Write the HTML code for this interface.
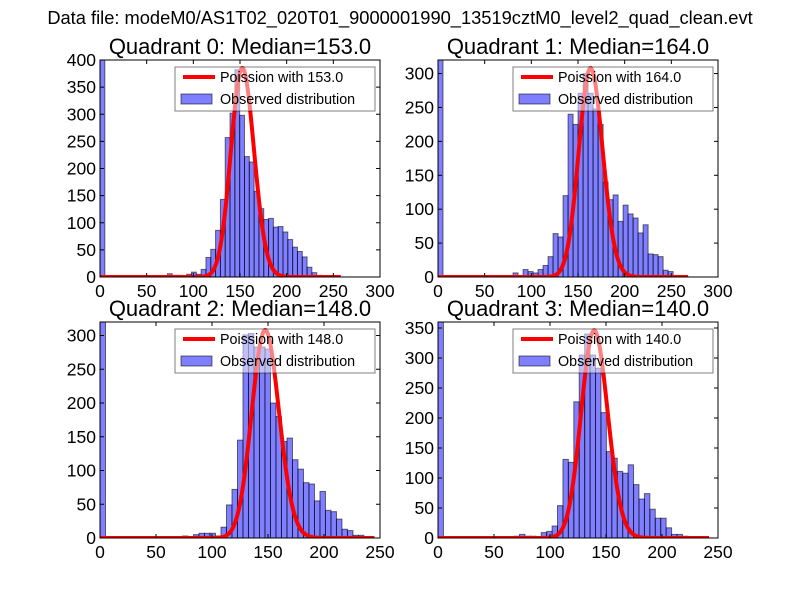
<!DOCTYPE html>
<html><head><meta charset="utf-8"><style>
body{margin:0;background:#fff;}
svg{display:block;font-family:"Liberation Sans","DejaVu Sans",sans-serif;}
</style></head><body>
<svg id="fig" width="800" height="600" viewBox="0 0 800 600">
<rect width="800" height="600" fill="#fff"/>
<text x="400" y="24" text-anchor="middle" font-size="18.3">Data file: modeM0/AS1T02_020T01_9000001990_13519cztM0_level2_quad_clean.evt</text>
</svg>
<script>
// ---- data ----
const quadrantNames = ["Quadrant 0","Quadrant 1","Quadrant 2","Quadrant 3"];
const medians = [153.0, 164.0, 148.0, 140.0];
const binWidths = [5.16, 5.36, 4.91, 4.85];
const poissonPeaks = [385, 308, 308, 346];
const xMaxes = [300, 300, 250, 250];
const yMaxes = [400, 320, 320, 360];
const xTicks01 = [0,50,100,150,200,250,300];
const xTicks23 = [0,50,100,150,200,250];
const yTicks0 = [0,50,100,150,200,250,300,350,400];
const yTicks1 = [0,50,100,150,200,250,300];
const yTicks2 = [0,50,100,150,200,250,300];
const yTicks3 = [0,50,100,150,200,250,300,350];
const counts0 = [430,0,0,0,0,0,0,0,0,0,0,0,0,0,6,3,3,0,5,9,5,14,36,51,86,143,257,302,382,298,222,212,158,126,106,108,92,93,83,69,55,47,37,18,8,3,0,0,0,0];
const counts1 = [330,0,0,0,0,0,0,0,0,0,0,0,0,0,0,6,0,11,8,6,11,17,30,64,59,120,240,225,271,300,271,248,225,140,114,121,82,106,93,87,65,77,34,33,30,10,8,2,0,0];
const counts2 = [330,0,0,0,0,0,0,0,0,0,0,0,0,0,0,3,0,5,7,7,7,3,16,49,72,145,301,303,283,283,280,200,180,143,148,116,102,82,80,55,69,41,39,28,13,11,4,4,0,0];
const counts3 = [370,0,0,0,0,0,0,0,0,0,0,0,0,0,3,6,3,3,0,9,11,20,54,131,126,227,305,340,305,283,209,144,133,111,108,122,89,65,74,48,33,33,17,6,6,3,0,0,0,0];

const allCounts = [counts0,counts1,counts2,counts3];
const allXTicks = [xTicks01,xTicks01,xTicks23,xTicks23];
const allYTicks = [yTicks0,yTicks1,yTicks2,yTicks3];
const boxes = [{x:100,y:60,w:280,h:217},{x:438,y:60,w:280,h:217},{x:100,y:322,w:280,h:216},{x:438,y:322,w:280,h:216}];

const NS="http://www.w3.org/2000/svg";
const fig=document.getElementById('fig');
function mk(tag,attrs,parent){const e=document.createElementNS(NS,tag);for(const k in attrs)e.setAttribute(k,attrs[k]);(parent||fig).appendChild(e);return e;}

for(let p=0;p<4;p++){
  const b=boxes[p];
  const sx=v=>b.x+v/xMaxes[p]*b.w;
  const sy=v=>b.y+b.h-v/yMaxes[p]*b.h;
  const g=mk('g',{});
  
  
  const cp=mk('clipPath',{id:'clip'+p},g);
  mk('rect',{x:b.x,y:b.y,width:b.w,height:b.h},cp);
  // bars
  const bg=mk('g',{'clip-path':'url(#clip'+p+')'},g);
  allCounts[p].forEach((c,i)=>{
    if(c<=0)return;
    const x0=sx(i*binWidths[p]), x1=sx((i+1)*binWidths[p]);
    const r=mk('rect',{x:x0,y:sy(c),width:x1-x0,height:sy(0)-sy(c),fill:'rgba(0,0,255,0.5)',stroke:'rgba(0,0,0,0.55)','stroke-width':1},bg);
    
    
  });
  // poisson line
  const lam=medians[p], nb=allCounts[p].length, xEnd=binWidths[p]*nb;
  let lf=0, logs=[];
  for(let k=0;k<=Math.floor(xEnd);k++){ if(k>0) lf+=Math.log(k); logs.push(k*Math.log(lam)-lam-lf); }
  const mx=Math.max(...logs);
  let d='';
  logs.forEach((l,k)=>{d+=(k?'L':'M')+sx(k).toFixed(2)+','+sy(poissonPeaks[p]*Math.exp(l-mx)).toFixed(2);});
  const line=mk('path',{d:d,fill:'none',stroke:'#ff0000','stroke-width':4,'stroke-linejoin':'round','clip-path':'url(#clip'+p+')'},g);
  
  
  // frame
  const fr=mk('rect',{x:b.x,y:b.y,width:b.w,height:b.h,fill:'none',stroke:'#000','stroke-width':1},g);
  
  
  // ticks
  allXTicks[p].forEach(t=>{
    const x=sx(t);
    mk('line',{x1:x,y1:b.y+b.h,x2:x,y2:b.y+b.h-4,stroke:'#000'},g);
    mk('line',{x1:x,y1:b.y,x2:x,y2:b.y+4,stroke:'#000'},g);
    const tx=mk('text',{x:x,y:b.y+b.h+20,'text-anchor':'middle','font-size':17.5},g);
    tx.textContent=t;
    
    
  });
  allYTicks[p].forEach(t=>{
    const y=sy(t);
    mk('line',{x1:b.x,y1:y,x2:b.x+4,y2:y,stroke:'#000'},g);
    mk('line',{x1:b.x+b.w,y1:y,x2:b.x+b.w-4,y2:y,stroke:'#000'},g);
    const ty=mk('text',{x:b.x-4,y:y+6,'text-anchor':'end','font-size':17.5},g);
    ty.textContent=t;
    
    
  });
  const ti=mk('text',{x:b.x+b.w/2,y:b.y-6,'text-anchor':'middle','font-size':22},g);
  ti.textContent=quadrantNames[p]+': Median='+medians[p].toFixed(1);
  
  
  // legend (semi-transparent)
  const lg=mk('g',{},g);
  
  
  const lx=b.x+75, ly=b.y+7;
  mk('rect',{x:lx,y:ly,width:200,height:44,fill:'rgba(255,255,255,0.5)',stroke:'rgba(0,0,0,0.5)','stroke-width':1},lg);
  mk('line',{x1:lx+8,y1:ly+10,x2:lx+40,y2:ly+10,stroke:'#ff0000','stroke-width':4},lg);
  const t1=mk('text',{x:lx+45,y:ly+15,'font-size':14.3},lg);
  t1.textContent='Poission with '+medians[p].toFixed(1);
  
  
  mk('rect',{x:lx+6,y:ly+27,width:31,height:10,fill:'rgba(0,0,255,0.5)',stroke:'rgba(0,0,0,0.55)'},lg);
  const t2=mk('text',{x:lx+45,y:ly+37,'font-size':14.3},lg);
  t2.textContent='Observed distribution';
  
  
}
</script>
</body></html>
